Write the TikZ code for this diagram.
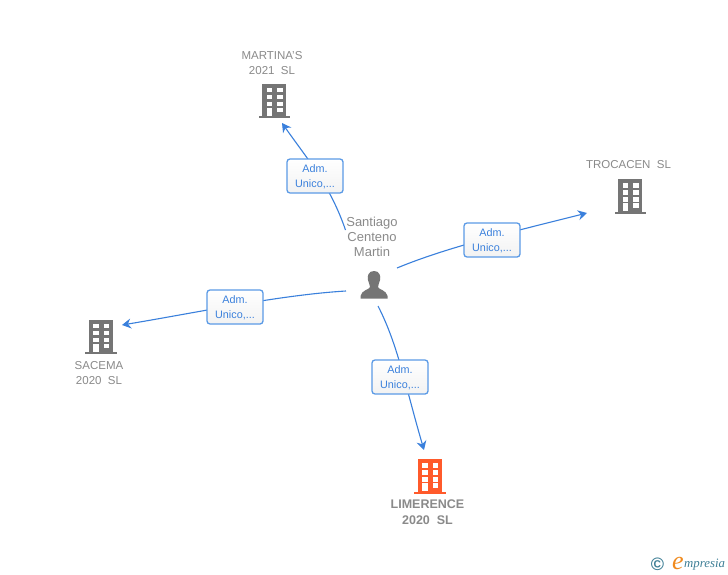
\documentclass[tikz,border=0pt]{standalone}
\usepackage{fontspec}
\setmainfont{Liberation Sans}
\newfontfamily\logofont{Liberation Serif}
\usetikzlibrary{arrows.meta,shadings}
\definecolor{linkblue}{HTML}{3A80DC}
\definecolor{boxedge}{HTML}{5B9AE6}
\definecolor{txtgrey}{HTML}{8A8A8A}
\definecolor{icongrey}{HTML}{757575}
\definecolor{iconorange}{HTML}{FF5A2B}
\definecolor{logoteal}{HTML}{3F7F96}
\definecolor{logoorange}{HTML}{F08A1D}
\tikzset{
  link/.style={draw=linkblue,line width=1.1pt},
  linkarrow/.style={link,-{Stealth[length=9pt,width=10pt,inset=3pt]}},
  rolebox/.style={draw=boxedge,line width=1.3pt,rounded corners=3pt,top color=white,bottom color=white!95!black,
    minimum width=56pt,minimum height=34pt,inner sep=0pt,align=center,text=linkblue,
    font=\fontsize{10.8}{15}\selectfont},
  lbl/.style={text=txtgrey,align=center,inner sep=0pt,font=\fontsize{11.5}{15}\selectfont},
  lblbold/.style={text=txtgrey,align=center,inner sep=0pt,font=\fontsize{12.5}{15.5}\selectfont\bfseries},
  lblperson/.style={text=txtgrey,align=center,inner sep=0pt,font=\fontsize{13}{15}\selectfont},
  icon/.style={minimum width=31pt,minimum height=34pt,inner sep=0pt},
}
\newcommand{\bldg}[2]{%
  \fill[#2] ([xshift=3.5pt]#1.north west) rectangle ([xshift=-4pt,yshift=2pt]#1.south east);
  \fill[#2] ([yshift=2pt]#1.south west) rectangle (#1.south east);
  \foreach \wx in {8,18.5}{
    \foreach \wy in {4,11,18}{
      \fill[white] ([xshift=\wx pt,yshift=-\wy pt]#1.north west) rectangle ++(5.3pt,-4.5pt);
    }
  }
  \fill[white] ([xshift=8pt,yshift=-24pt]#1.north west) rectangle ++(5.3pt,-8pt);
  \fill[white] ([xshift=18.5pt,yshift=-24pt]#1.north west) rectangle ++(5.3pt,-4.5pt);
}
\newcommand{\roletext}{\rule{0pt}{10pt}Adm.\\Unico,...}
\begin{document}
\begin{tikzpicture}[x=1pt,y=-1pt]
\useasboundingbox (0,0) rectangle (728,575);
\fill[white] (0,0) rectangle (728,575);

% icons
\node[icon] (martinas) at (274.5,101) {};
\node[icon] (trocacen) at (630.5,196.5) {};
\node[icon] (sacema) at (101,337) {};
\node[icon] (limerence) at (430,476.5) {};
\node[minimum width=28pt,minimum height=28pt,inner sep=0pt] (person) at (374,285) {};
\bldg{martinas}{icongrey}
\bldg{trocacen}{icongrey}
\bldg{sacema}{icongrey}
\bldg{limerence}{iconorange}
\fill[icongrey] (374,271) .. controls (368.5,271) and (367,276) .. (368,280)
  .. controls (368.6,283) and (370,285) .. (370,287)
  .. controls (369,290) and (361.5,290) .. (360.5,296) -- (360.5,298.5) -- (387.5,298.5) -- (387.5,296)
  .. controls (386.5,290) and (379,290) .. (378,287)
  .. controls (378,285) and (379.4,283) .. (380,280)
  .. controls (381,276) and (379.5,271) .. (374,271) -- cycle;

% connector end points
\coordinate (sm) at (345.5,230);
\coordinate (em) at (282,123);
\coordinate (st) at (397,268);
\coordinate (et) at (587,213);
\coordinate (ss) at (346,291);
\coordinate (es) at (122,325);
\coordinate (sl) at (378,306);
\coordinate (el) at (424,450);

% connectors
\draw[linkarrow] (sm) .. controls (330,185) and (308,160) .. (em);
\draw[linkarrow] (st) .. controls (450,246) and (520,230) .. (et);
\draw[linkarrow] (ss) .. controls (280,295) and (200,312) .. (es);
\draw[linkarrow] (sl) .. controls (398,345) and (405,385) .. (el);

% role boxes
\node[rolebox] (bm) at (315,176) {\roletext};
\node[rolebox] (bt) at (492,240) {\roletext};
\node[rolebox] (bs) at (235,307) {\roletext};
\node[rolebox] (bl) at (400,377) {\roletext};

% labels
\node[lbl] (lm) at (272,63) {MARTINA'S\\2021\ \ SL};
\node[lbl] (lt) at (628.5,165) {TROCACEN\ \ SL};
\node[lbl] (ls) at (99,373.5) {SACEMA\\2020\ \ SL};
\node[lblbold] (ll) at (427.5,512) {LIMERENCE\\2020\ \ SL};
\node[lblperson] (lp) at (372,237) {Santiago\\Centeno\\Martin};

% logo
\node[inner sep=0pt,text=logoteal,font=\bfseries\fontsize{18}{18}\selectfont] (copy) at (657.5,564) {©};
\node[inner sep=0pt,text=logoorange,font=\logofont\itshape\fontsize{26}{26}\selectfont] (loge) at (678,563) {e};
\node[inner sep=0pt,anchor=west,text=logoteal,font=\logofont\itshape\fontsize{12.8}{14}\selectfont] (logt) at (684,565) {mpresia};
\end{tikzpicture}
\end{document}
